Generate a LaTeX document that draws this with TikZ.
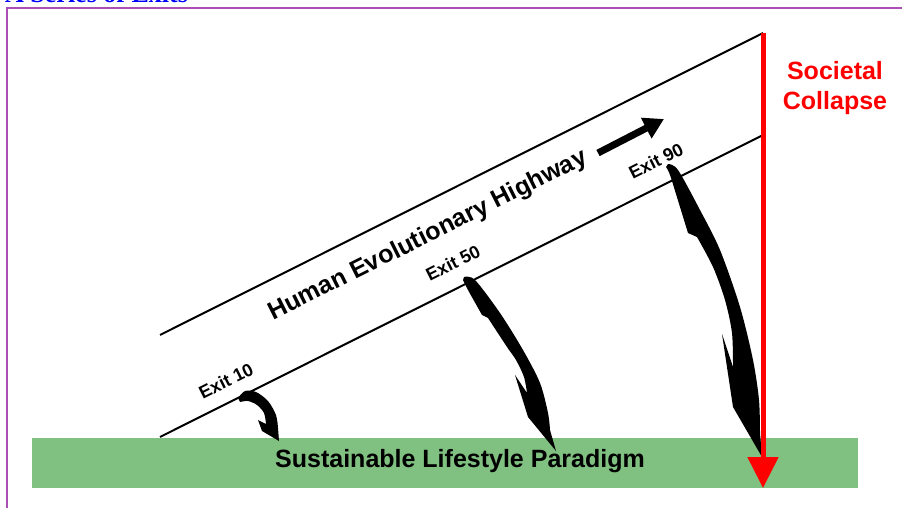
\documentclass[tikz,border=0pt]{standalone}
\usepackage{fontspec}
\setmainfont{Liberation Sans}
\newfontfamily\titlefont{Liberation Serif}
\usetikzlibrary{arrows.meta}
\definecolor{frameclr}{RGB}{170,80,180}
\definecolor{grn}{RGB}{128,192,128}
\definecolor{ttl}{RGB}{0,0,255}
\begin{document}
\begin{tikzpicture}[x=1pt,y=-1pt,
  hwy/.style={line width=2pt, black},
  exitlbl/.style={font=\bfseries\fontsize{18}{18}\selectfont, rotate=26.6, inner sep=0pt},
  bigtxt/.style={font=\bfseries\fontsize{25}{30}\selectfont, inner sep=0pt},
  exitarrow/.style={fill=black}]
\useasboundingbox (0,0) rectangle (902,508);
\clip (0,0) rectangle (902,508);
% title (cut off) and frame
\node[anchor=base west, text=ttl, font=\titlefont\bfseries\fontsize{26}{26}\selectfont, inner sep=0pt] (title) at (5,3) {A Series of Exits};
\coordinate (f1) at (7,530);
\coordinate (f2) at (7,8);
\coordinate (f3) at (920,8);
\draw[frameclr, line width=2pt] (f1) -- (f2) -- (f3);
% green band
\node[fill=grn, minimum width=826pt, minimum height=50pt, inner sep=0pt, anchor=north west] (band) at (32,438) {};
\node[bigtxt] (slp) at (460,461) {Sustainable Lifestyle Paradigm};
% highway
\coordinate (u1) at (160,335);
\coordinate (u2) at (763,33);
\coordinate (l1) at (160,437);
\coordinate (l2) at (763,135);
\draw[hwy] (u1) -- (u2);
\draw[hwy] (l1) -- (l2);
\node[bigtxt, rotate=26.6] (hwytxt) at (428,236) {Human Evolutionary Highway};
\coordinate (ha1) at (598,153);
\coordinate (ha2) at (664,119);
\draw[line width=7pt, -{Triangle[width=22pt,length=20pt]}] (ha1) -- (ha2);
% exits
\node[exitlbl] (e10) at (226,381) {Exit 10};
\node[exitlbl] (e50) at (453,263) {Exit 50};
\node[exitlbl] (e90) at (656,161) {Exit 90};
% curved exit arrows
\fill[exitarrow] (238,398) -- plot[smooth] coordinates {(238,398) (245,391) (256,392) (268,401) (276,415) (278,428)}
  -- (279,441) -- (262,431) -- (258,420) -- (266,424)
  -- plot[smooth] coordinates {(266,424) (264,413) (257,405) (248,401) (240,402)} -- cycle;
\fill[exitarrow] (464,277) -- plot[smooth] coordinates {(464,277) (475,280) (500,313) (523,350) (540,383) (548,413) (550,430)}
  -- (556,451) -- (528,417) -- (515,375) -- (527,393)
  -- plot[smooth] coordinates {(527,393) (524,377) (516,360) (507,347) (488,318)}
  -- (482,315) -- plot[smooth] coordinates {(482,315) (468,290) (463,280)} -- cycle;
\fill[exitarrow] (668,164) -- plot[smooth] coordinates {(668,164) (678,170) (700,210) (720,250) (740,307) (753,360) (759,400) (760,433)}
  -- (762,457) -- (733,407) -- (722,334) -- (733,367)
  -- plot[smooth] coordinates {(733,367) (732,333) (725,300) (713,267) (697,237)}
  -- (688,233) -- plot[smooth] coordinates {(688,233) (680,207) (670,175) (666,167)} -- cycle;
% collapse
\coordinate (rtop) at (763,33);
\coordinate (rtip) at (763,488);
\draw[red, line width=5pt, -{Triangle[width=30pt,length=31pt]}] (rtop) -- (rtip);
\node[bigtxt, text=red, align=center] (sc) at (835,88) {Societal\\Collapse};
\end{tikzpicture}
\end{document}
